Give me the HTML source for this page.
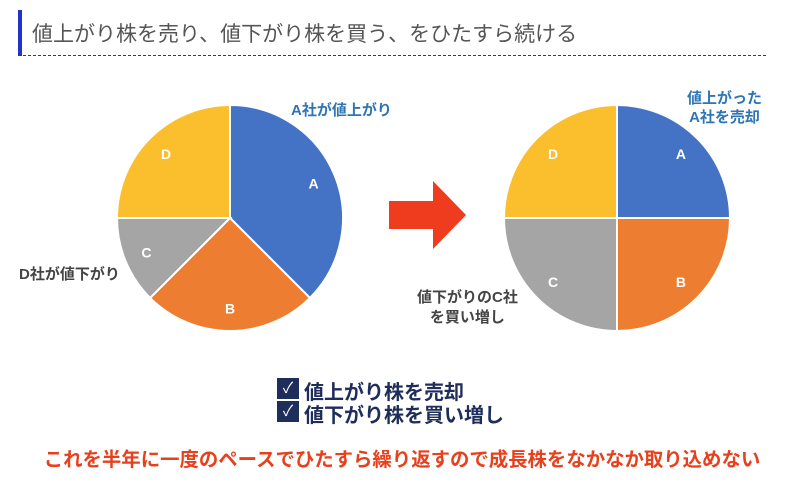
<!DOCTYPE html>
<html><head><meta charset="utf-8">
<style>
body{margin:0;width:809px;height:484px;background:#fff;overflow:hidden;font-family:"Liberation Sans","Noto Sans CJK JP",sans-serif;}
.t{position:absolute;white-space:nowrap;}
</style></head><body>
<div style="position:absolute;left:18px;top:10px;width:4px;height:46px;background:#2233cc"></div>
<div class="t" style="left:32px;top:18px;font-size:21px;color:#555;">値上がり株を売り、値下がり株を買う、をひたすら続ける</div>
<div style="position:absolute;left:18px;top:55px;width:748px;border-top:1px dashed #2233aa"></div>
<svg id="chart" width="809" height="484" style="position:absolute;left:0;top:0"></svg>
<div class="t" style="left:291px;top:99px;font-size:15px;font-weight:bold;color:#2e75b6;">A社が値上がり</div>
<div class="t" style="left:19px;top:263px;font-size:15px;font-weight:bold;color:#444;">D社が値下がり</div>
<div class="t" style="left:687px;top:89px;font-size:15px;font-weight:bold;color:#2e75b6;text-align:center;line-height:19px;">値上がった<br>A社を売却</div>
<div class="t" style="left:417px;top:288px;font-size:15px;font-weight:bold;color:#444;text-align:center;line-height:20px;">値下がりのC社<br>を買い増し</div>
<div style="position:absolute;left:277px;top:378px;width:22px;height:21px;background:#1f2d5a;color:#fff;font-size:15px;text-align:center;line-height:21px;">✓</div>
<div style="position:absolute;left:277px;top:401px;width:22px;height:21px;background:#1f2d5a;color:#fff;font-size:15px;text-align:center;line-height:21px;">✓</div>
<div class="t" style="left:304px;top:376px;font-size:20px;font-weight:bold;color:#1f2d5a;">値上がり株を売却</div>
<div class="t" style="left:304px;top:399px;font-size:20px;font-weight:bold;color:#1f2d5a;">値下がり株を買い増し</div>
<div class="t" style="left:40px;top:443px;width:724px;text-align:center;font-size:19.4px;font-weight:bold;color:#e8401c;">これを半年に一度のペースでひたすら繰り返すので成長株をなかなか取り込めない</div>
<script>
const categories=['A','B','C','D'];
const beforeValues=[37.5,25,12.5,25];
const afterValues=[25,25,25,25];
const colors=['#4472c4','#ed7d31','#a5a5a5','#fbbf2d'];
const svg=document.getElementById('chart');
const NS='http://www.w3.org/2000/svg';
function pie(cx,cy,r,vals,name){
  const tot=vals.reduce((a,b)=>a+b,0);let a0=0;
  vals.forEach((v,i)=>{
    const a1=a0+v/tot*2*Math.PI;
    const x0=cx+r*Math.sin(a0),y0=cy-r*Math.cos(a0),x1=cx+r*Math.sin(a1),y1=cy-r*Math.cos(a1);
    const p=document.createElementNS(NS,'path');
    p.setAttribute('d',`M${cx},${cy}L${x0},${y0}A${r},${r} 0 ${a1-a0>Math.PI?1:0} 1 ${x1},${y1}Z`);
    p.setAttribute('fill',colors[i]);p.setAttribute('stroke','#fff');p.setAttribute('stroke-width','2');
    
    
    svg.appendChild(p);
    const m=(a0+a1)/2,lr=r*0.8;
    const t=document.createElementNS(NS,'text');
    t.setAttribute('x',cx+lr*Math.sin(m));t.setAttribute('y',cy-lr*Math.cos(m)+5);
    t.setAttribute('text-anchor','middle');t.setAttribute('fill','#fff');t.setAttribute('font-weight','bold');t.setAttribute('font-size','14');
    t.setAttribute('font-family','Liberation Sans, sans-serif');
    t.textContent=categories[i];
    
    
    svg.appendChild(t);
    a0=a1;
  });
}
pie(230,218,113,beforeValues,'before-pie');
pie(617,218,113,afterValues,'after-pie');
const ar=document.createElementNS(NS,'polygon');
ar.setAttribute('points','389,201 433,201 433,181 466,215 433,249 433,229 389,229');
ar.setAttribute('fill','#f03c1e');


svg.appendChild(ar);
</script>
</body></html>
